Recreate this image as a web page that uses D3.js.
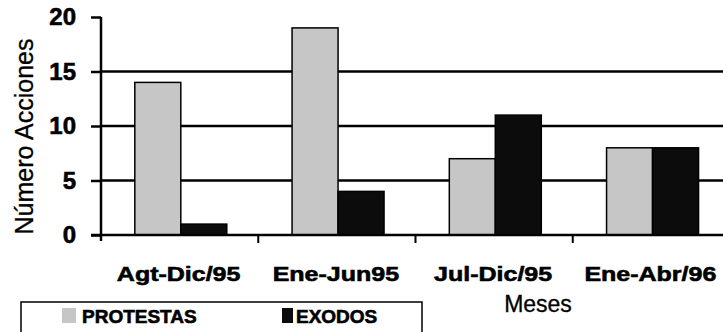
<!DOCTYPE html>
<html>
<head>
<meta charset="utf-8">
<script src="https://cdn.jsdelivr.net/npm/d3@7"></script>
<style>
  html, body { margin: 0; padding: 0; background: #fff; }
  svg { display: block; }
  text { font-family: "Liberation Sans", Arial, sans-serif; fill: #000; }
  text.heavy { stroke: #000; stroke-width: 0.6px; }
</style>
</head>
<body>
<svg id="chart" width="723" height="332"></svg>
<script>
// ---- data ----
const categories = ["Agt-Dic/95", "Ene-Jun95", "Jul-Dic/95", "Ene-Abr/96"];
const seriesNames = ["PROTESTAS", "EXODOS"];
const protestas = [14, 19, 7, 8];
const exodos = [1, 4, 11, 8];
const yTicks = [0, 5, 10, 15, 20];
const gridValues = [5, 10, 15];
const yTitle = "Número Acciones";
const xTitle = "Meses";

// ---- layout ----
const W = 723, H = 332;
const plotLeft = 101, plotRight = 730, plotTop = 17, plotBottom = 235;
const colors = { PROTESTAS: "#c6c6c6", EXODOS: "#0c0c0c" };

const svg = d3.select("#chart");

const x0 = d3.scaleBand().domain(categories).range([plotLeft, plotRight]).padding(0);
const x1 = d3.scaleBand().domain(seriesNames)
  .range([x0.bandwidth() * 0.215, x0.bandwidth() * 0.80]).padding(0);
const y = d3.scaleLinear().domain([0, 20]).range([plotBottom, plotTop]);

const valuesBy = { PROTESTAS: protestas, EXODOS: exodos };

function stretch(sel, k) {
  sel.each(function () {
    const len = this.getComputedTextLength();
    d3.select(this).attr("textLength", len * k).attr("lengthAdjust", "spacingAndGlyphs");
  });
}

// gridlines
svg.append("g").selectAll("line").data(gridValues).join("line")
  .attr("x1", plotLeft).attr("x2", W)
  .attr("y1", d => y(d)).attr("y2", d => y(d))
  .attr("stroke", "#000").attr("stroke-width", 2.5);

// bars
const groups = svg.append("g").selectAll("g").data(categories).join("g")
  .attr("transform", c => `translate(${x0(c)},0)`);
groups.selectAll("rect")
  .data((c, i) => seriesNames.map(s => ({ s, v: valuesBy[s][i] })))
  .join("rect")
  .attr("x", d => x1(d.s))
  .attr("width", x1.bandwidth())
  .attr("y", d => y(d.v))
  .attr("height", d => y(0) - y(d.v))
  .attr("fill", d => colors[d.s])
  .attr("stroke", "#000").attr("stroke-width", 1.5);

// y axis
const yAxis = svg.append("g")
  .attr("transform", `translate(${plotLeft},0)`)
  .call(d3.axisLeft(y).tickValues(yTicks).tickSize(10).tickPadding(15).tickSizeOuter(0));
yAxis.select(".domain").attr("stroke-width", 2.5)
  .attr("d", `M0,${y(20)}V${plotBottom + 6}`);
yAxis.selectAll(".tick line").attr("stroke-width", 2.5);
yAxis.selectAll(".tick text")
  .attr("class", "heavy")
  .style("font-size", "24px").style("font-weight", "bold");

// x axis line
svg.append("line")
  .attr("x1", plotLeft - 10).attr("x2", W)
  .attr("y1", y(0)).attr("y2", y(0))
  .attr("stroke", "#000").attr("stroke-width", 2.5);
// boundary ticks between categories
svg.append("g").selectAll("line").data(categories.slice(1)).join("line")
  .attr("x1", c => x0(c)).attr("x2", c => x0(c))
  .attr("y1", y(0)).attr("y2", y(0) + 8)
  .attr("stroke", "#000").attr("stroke-width", 2);

// category labels
svg.append("g").selectAll("text").data(categories).join("text")
  .attr("class", "heavy")
  .attr("x", c => x0(c) + x0.bandwidth() / 2 - 1)
  .attr("y", 281)
  .attr("text-anchor", "middle")
  .style("font-size", "21px").style("font-weight", "bold")
  .text(c => c)
  .call(stretch, 1.19);

// axis titles
svg.append("text")
  .attr("transform", `translate(33,${(35 + 238) / 2}) rotate(-90)`)
  .attr("text-anchor", "middle")
  .style("font-size", "25px")
  .style("stroke", "#000").style("stroke-width", "0.3px")
  .text(yTitle);

svg.append("text")
  .attr("x", 538).attr("y", 312)
  .attr("text-anchor", "middle")
  .style("font-size", "23px")
  .style("stroke", "#000").style("stroke-width", "0.3px")
  .text(xTitle);

// legend
const leg = svg.append("g");
leg.append("rect")
  .attr("x", 21).attr("y", 302).attr("width", 401).attr("height", 45)
  .attr("fill", "none").attr("stroke", "#000").attr("stroke-width", 1.5);
const legItems = [
  { s: seriesNames[0], sx: 62, sw: 14, tx: 82 },
  { s: seriesNames[1], sx: 282, sw: 11, tx: 296 }
];
leg.selectAll("rect.sw").data(legItems).join("rect").attr("class", "sw")
  .attr("x", d => d.sx).attr("y", 308).attr("width", d => d.sw).attr("height", 15)
  .attr("fill", d => colors[d.s]);
leg.selectAll("text").data(legItems).join("text")
  .attr("class", "heavy")
  .attr("x", d => d.tx).attr("y", 323)
  .style("font-size", "19px").style("font-weight", "bold")
  .text(d => d.s);
</script>
</body>
</html>
